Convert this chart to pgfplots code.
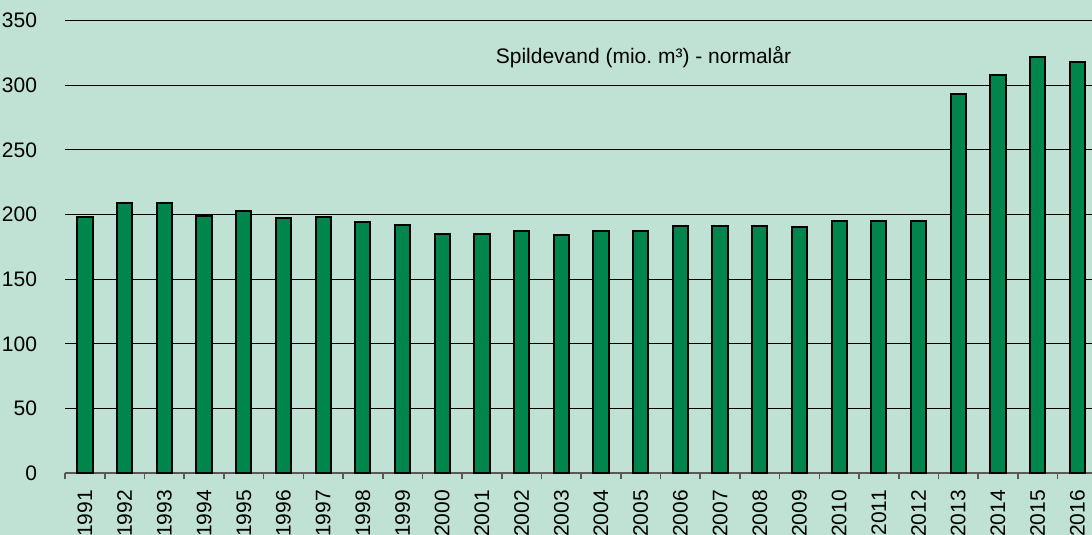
\documentclass[border=0pt]{standalone}
\usepackage{fontspec}
\setmainfont{Liberation Sans}
\usepackage{pgfplots}
\pgfplotsset{compat=1.18}
\definecolor{bg}{RGB}{192,226,212}
\definecolor{barg}{RGB}{0,134,76}
\begin{document}
\frenchspacing
\begin{tikzpicture}
\fill[bg] (0,0) rectangle (546pt,267.5pt);
\begin{axis}[
  at={(32.58pt,30.85pt)}, anchor=south west,
  scale only axis, width=513.42pt, height=226.4pt,
  xmin=-0.5, xmax=25.37, ymin=0, ymax=350,
  ybar, bar width=7.6pt,
  axis x line*=bottom, axis y line*=left,
  y axis line style={draw=none},
  x axis line style={draw=black!65, line width=0.8pt, -},
  ytick={0,50,...,350},
  ymajorgrids, grid style={black, line width=0.5pt},
  ytick style={draw=none},
  xtick={0,...,25},
  xticklabels={1991,1992,1993,1994,1995,1996,1997,1998,1999,2000,2001,2002,2003,2004,2005,2006,2007,2008,2009,2010,2011,2012,2013,2014,2015,2016},
  xtick style={draw=none},
  minor xtick={-0.5,0.5,...,25.5},
  minor tick length=3pt,
  tick align=outside,
  minor x tick style={draw=black!65, line width=0.8pt},
  every tick label/.append style={font=\fontsize{10.5}{12}\selectfont},
  /pgf/number format/assume math mode=true,
  yticklabel style={anchor=east, inner sep=0pt, xshift=-9.6pt},
  xticklabel style={yshift=-4pt, rotate=90, anchor=east, inner sep=0pt},
  clip=true,
]
\addplot[fill=barg, draw=black, line width=1pt] coordinates {
(0,198) (1,209) (2,209) (3,199) (4,203) (5,197) (6,198) (7,194) (8,192) (9,185)
(10,185) (11,187) (12,184) (13,187) (14,187) (15,191) (16,191) (17,191) (18,190) (19,195)
(20,195) (21,195) (22,293) (23,308) (24,322) (25,318)
};
\node[font=\fontsize{10.5}{12}\selectfont, inner sep=0pt] at (axis cs:14.07,321.8) {Spildevand (mio.\ m³) - normalår};
\end{axis}
\pgfresetboundingbox
\useasboundingbox (0,0) rectangle (546pt,267.5pt);
\end{tikzpicture}
\end{document}
